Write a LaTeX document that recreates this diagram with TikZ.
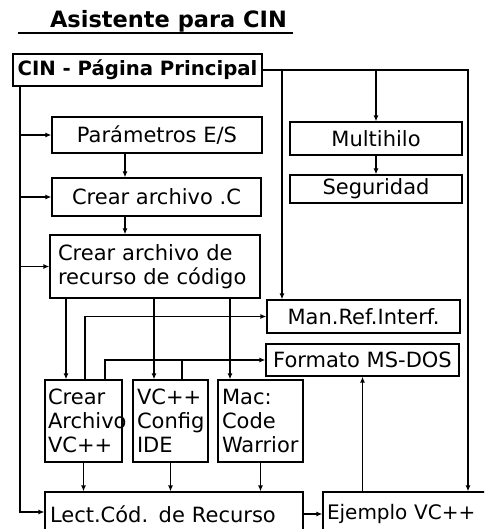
\documentclass[tikz,border=0pt]{standalone}
\usepackage{fontspec}
\setmainfont{DejaVu Sans}
\usetikzlibrary{arrows.meta}
\begin{document}
\begin{tikzpicture}[x=1pt, y=-1pt, >={Latex[length=6pt,width=5pt]},
    box/.style={draw, line width=1.2pt, inner sep=0pt, font=\fontsize{21}{24}\selectfont},
    link/.style={line width=1.2pt, ->},
    wire/.style={line width=1.2pt}]
    \useasboundingbox (0,0) rectangle (484,529);
    \clip (0,0) rectangle (484,529);

    % title
    \node[font=\bfseries\fontsize{22.5}{26}\selectfont, anchor=base] (title) at (168.5,28) {Asistente para CIN};
    \draw[wire] (18,33) -- (293,33);

    % main page
    \node[box, minimum width=249, minimum height=32, font=\bfseries\fontsize{19.7}{23}\selectfont] (main) at (137.5,70) {CIN - Página Principal};

    % left column
    \node[box, minimum width=210, minimum height=36] (par) at (157,135) {Parámetros E/S};
    \node[box, minimum width=209, minimum height=38] (crc) at (156.5,197) {Crear archivo .C};
    \node[box, minimum width=210, minimum height=63, text width=194, align=left] (rec) at (155,266.5) {Crear archivo de\\recurso de código};

    % right column
    \node[box, minimum width=172, minimum height=33] (multi) at (376,138.5) {Multihilo};
    \node[box, minimum width=172, minimum height=28] (seg) at (376,189) {Seguridad};
    \node[box, minimum width=193, minimum height=33] (man) at (363.5,316.5) {Man.Ref.Interf.};
    \node[box, minimum width=193, minimum height=32] (fmt) at (362.5,360) {Formato MS-DOS};

    % small boxes
    \node[box, minimum width=77, minimum height=82, text width=71, align=left] (vcf) at (83.5,421) {Crear\\Archivo\\VC++};
    \node[box, minimum width=75, minimum height=82, text width=67, align=left] (ide) at (170.5,421) {VC++\\Config\\IDE};
    \node[box, minimum width=85, minimum height=82, text width=77, align=left] (mac) at (260.5,421) {Mac:\\Code\\Warrior};

    % bottom row
    \node[box, minimum width=258, minimum height=44, text width=248, align=left] (lect) at (174,514) {Lect.Cód. de Recurso};
    \node[box, minimum width=172, minimum height=44, text width=164, align=left, font=\fontsize{20}{24}\selectfont] (ej) at (409,514) {Ejemplo VC++};

    % bus lines
    \coordinate (busL) at (20,86);
    \coordinate (busR) at (468,70);
    \coordinate (tapM) at (282,70);
    \coordinate (colA) at (125,0);

    \draw[link] (main.south -| busL) |- ([yshift=2pt]lect.west);
    \draw[link] (busL |- par.west) -- (par.west);
    \draw[link] (busL |- crc.west) -- (crc.west);
    \draw[link] (busL |- rec.west) -- (rec.west);

    \draw[link] (main.east) -| (ej.north -| busR);
    \draw[link] (tapM) -- (tapM |- man.north);
    \draw[link] (multi.north |- main.east) -- (multi.north);
    \draw[link] (multi.south) -- (seg.north);

    \draw[link] (par.south -| colA) -- (crc.north -| colA);
    \draw[link] (crc.south -| colA) -- (rec.north -| colA);

    % from the resource file box
    \coordinate (dropA) at (66,0);
    \coordinate (dropB) at (154,0);
    \coordinate (dropC) at (230,0);
    \draw[link] (rec.south -| dropA) -- (vcf.north -| dropA);
    \draw[link] (rec.south -| dropB) -- (ide.north -| dropB);
    \draw[link] (rec.south -| dropC) -- (mac.north -| dropC);

    % back to the reference boxes
    \coordinate (upA) at (85,0);
    \coordinate (upB) at (105,0);
    \coordinate (upC) at (182,0);
    \draw[link] (vcf.north -| upA) |- (man.west);
    \draw[link] (vcf.north -| upB) |- (fmt.west);
    \draw[wire] (ide.north -| upC) -- (upC |- fmt.west);

    % down to the reader
    \draw[link] (vcf.south) -- (vcf.south |- lect.north);
    \draw[link] (ide.south) -- (ide.south |- lect.north);
    \draw[link] (mac.south) -- (mac.south |- lect.north);

    \draw[link] (lect.east) -- (ej.west);
    \draw[link] (ej.north -| fmt.south) -- (fmt.south);
\end{tikzpicture}
\end{document}
